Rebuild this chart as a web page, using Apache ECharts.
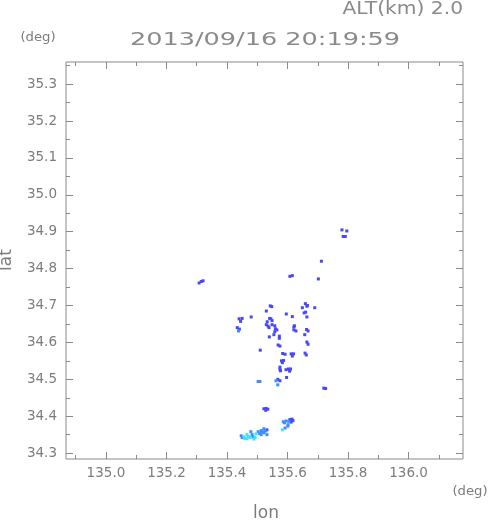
<!DOCTYPE html>
<html>
<head>
<meta charset="utf-8">
<script src="https://cdn.jsdelivr.net/npm/echarts@6/dist/echarts.min.js"></script>
<style>
html,body{margin:0;padding:0;background:#fff;}
#c{width:491px;height:521px;}
</style>
</head>
<body>
<div id="c"></div>
<script>
// ---- data ----
var lonRange = [134.868, 136.18];
var latRange = [34.284, 35.36];
var lonLabels = [135.0, 135.2, 135.4, 135.6, 135.8, 136.0];
var lonMinor = [134.9, 135.1, 135.3, 135.5, 135.7, 135.9, 136.1];
var latLabels = [34.3, 34.4, 34.5, 34.6, 34.7, 34.8, 34.9, 35.0, 35.1, 35.2, 35.3];
var latMinor = [34.35, 34.45, 34.55, 34.65, 34.75, 34.85, 34.95, 35.05, 35.15, 35.25, 35.35];

var titleText = '2013/09/16 20:19:59';
var altText = 'ALT(km) 2.0';

// echo cells: level 1 = blue, level 2 = light blue, level 3 = cyan
var echoBlue = [
  [135.308,34.761],[135.315,34.765],[135.321,34.767],
  [135.780,34.905],[135.796,34.902],[135.784,34.887],[135.791,34.887],
  [135.712,34.820],[135.702,34.772],[135.608,34.779],[135.616,34.781],
  [135.543,34.699],[135.548,34.697],[135.530,34.685],[135.596,34.677],[135.480,34.669],
  [135.440,34.664],[135.450,34.665],[135.445,34.657],[135.434,34.640],[135.441,34.636],
  [135.541,34.665],[135.533,34.656],[135.530,34.648],[135.539,34.640],[135.549,34.648],
  [135.549,34.659],[135.545,34.664],[135.558,34.645],[135.560,34.637],[135.558,34.629],
  [135.555,34.621],[135.565,34.634],[135.536,34.644],
  [135.573,34.617],[135.573,34.611],[135.540,34.615],[135.510,34.579],
  [135.569,34.593],[135.575,34.590],[135.584,34.570],[135.592,34.568],
  [135.664,34.698],[135.666,34.700],[135.659,34.705],[135.649,34.694],[135.690,34.694],
  [135.655,34.680],[135.660,34.682],[135.664,34.669],[135.616,34.670],
  [135.621,34.642],[135.621,34.634],[135.628,34.631],[135.623,34.645],
  [135.663,34.635],[135.668,34.631],[135.657,34.621],[135.664,34.601],[135.668,34.595],
  [135.612,34.569],[135.620,34.569],[135.616,34.563],[135.658,34.571],[135.662,34.566],
  [135.580,34.550],[135.587,34.551],[135.583,34.545],
  [135.575,34.533],[135.575,34.527],[135.577,34.523],
  [135.603,34.528],[135.610,34.528],[135.607,34.522],[135.595,34.526],
  [135.597,34.505],[135.575,34.496],[135.568,34.500],
  [135.720,34.476],[135.726,34.475],
  [135.522,34.420],[135.529,34.421],[135.535,34.419],[135.528,34.416],
  [135.608,34.391],[135.618,34.388],[135.612,34.384],[135.615,34.392],[135.532,34.363]
];
var echoLightBlue = [
  [135.438,34.631],[135.503,34.494],[135.509,34.494],[135.562,34.496],[135.568,34.485],
  [135.586,34.385],[135.595,34.387],[135.602,34.377],[135.592,34.368],[135.601,34.373],
  [135.604,34.386],[135.590,34.382],
  [135.447,34.347],[135.486,34.344],[135.479,34.358],[135.503,34.358],[135.513,34.361],
  [135.513,34.350],[135.522,34.366],[135.522,34.355],[135.532,34.350],
  [135.483,34.350],[135.508,34.353],[135.517,34.358],[135.527,34.360],[135.450,34.342]
];
var echoCyan = [
  [135.583,34.363],[135.456,34.344],[135.466,34.350],[135.476,34.342],[135.496,34.352],
  [135.466,34.339],[135.493,34.342],[135.459,34.339],[135.470,34.345],[135.489,34.338]
];

// ---- chart ----
var axisGray = '#8a8a8a';
var textGray = '#7c7c7c';
var chart = echarts.init(document.getElementById('c'), null, {renderer: 'canvas'});

function xAx(pos, ticks, len, labels) {
  return {
    type: 'value', position: pos, min: lonRange[0], max: lonRange[1],
    axisLine: {show: false}, splitLine: {show: false},
    axisTick: {show: true, inside: true, length: len, customValues: ticks, lineStyle: {color: axisGray}},
    axisLabel: labels ? {show: true, customValues: lonLabels, margin: 7, color: textGray,
      fontFamily: 'DejaVu Sans', fontSize: 13.5, formatter: function (v) { return v.toFixed(1); }} : {show: false}
  };
}
function yAx(pos, ticks, len, labels) {
  return {
    type: 'value', position: pos, min: latRange[0], max: latRange[1],
    axisLine: {show: false}, splitLine: {show: false},
    axisTick: {show: true, inside: true, length: len, customValues: ticks, lineStyle: {color: axisGray}},
    axisLabel: labels ? {show: true, customValues: latLabels, margin: 9, color: textGray,
      fontFamily: 'DejaVu Sans', fontSize: 13.5, formatter: function (v) { return v.toFixed(1); }} : {show: false}
  };
}

function scatter(data, color) {
  return {
    type: 'scatter', xAxisIndex: 0, yAxisIndex: 0, data: data,
    symbol: 'rect', symbolSize: 3, itemStyle: {color: color, opacity: 1},
    silent: true, animation: false
  };
}

chart.setOption({
  animation: false,
  backgroundColor: '#ffffff',
  grid: {left: 66, top: 62, width: 397, height: 397, show: true,
    borderColor: axisGray, borderWidth: 1, backgroundColor: 'transparent'},
  xAxis: [
    xAx('bottom', lonLabels, 7, true),
    xAx('bottom', lonMinor, 4, false),
    xAx('top', lonLabels, 7, false),
    xAx('top', lonMinor, 4, false)
  ],
  yAxis: [
    yAx('left', latLabels, 7, true),
    yAx('left', latMinor, 4, false),
    yAx('right', latLabels, 7, false),
    yAx('right', latMinor, 4, false)
  ],
  series: [
    scatter(echoBlue, '#4848f8'),
    scatter(echoLightBlue, '#3d8dff'),
    scatter(echoCyan, '#3fe0ff')
  ],
  graphic: [
    {type: 'text', x: 463, y: 10, scaleX: 1.19,
      style: {text: altText, font: '17px "DejaVu Sans"', fill: '#8a8a8a', textAlign: 'right', textVerticalAlign: 'middle'}},
    {type: 'text', x: 265, y: 40, scaleX: 1.42,
      style: {text: titleText, font: '18px "DejaVu Sans"', fill: '#8a8a8a', textAlign: 'center', textVerticalAlign: 'middle'}},
    {type: 'text', x: 38, y: 38, scaleX: 1.1,
      style: {text: '(deg)', font: '12px "DejaVu Sans"', fill: textGray, textAlign: 'center', textVerticalAlign: 'middle'}},
    {type: 'text', x: 470, y: 492, scaleX: 1.1,
      style: {text: '(deg)', font: '12px "DejaVu Sans"', fill: textGray, textAlign: 'center', textVerticalAlign: 'middle'}},
    {type: 'text', x: 266, y: 514, scaleX: 1.0,
      style: {text: 'lon', font: '17px "DejaVu Sans"', fill: textGray, textAlign: 'center', textVerticalAlign: 'middle'}},
    {type: 'text', x: 7, y: 260, rotation: Math.PI / 2,
      style: {text: 'lat', font: '17px "DejaVu Sans"', fill: textGray, textAlign: 'center', textVerticalAlign: 'middle'}}
  ]
});
</script>
</body>
</html>
